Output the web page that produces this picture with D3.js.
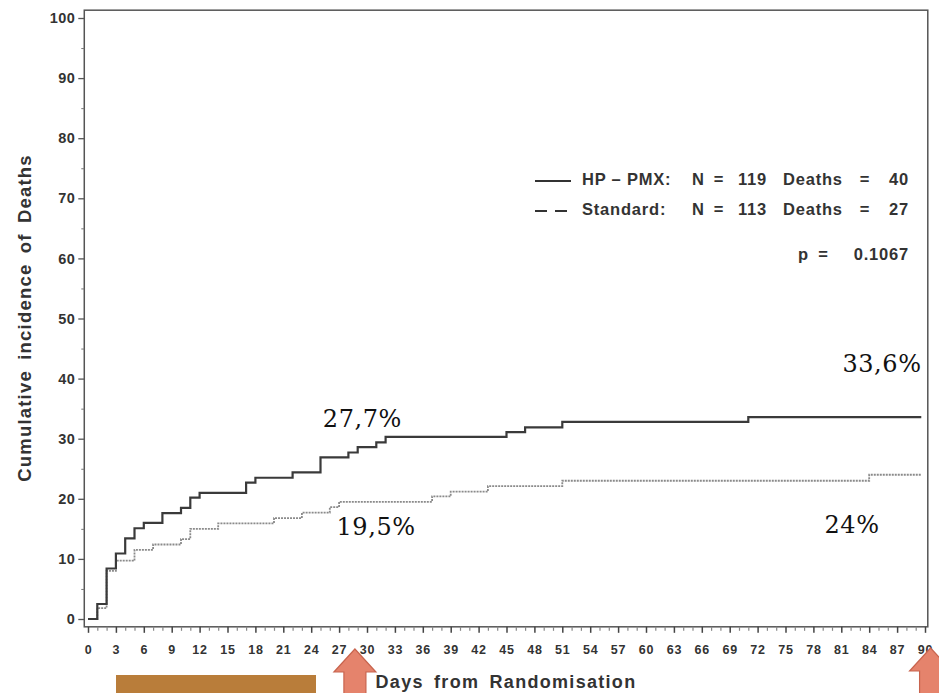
<!DOCTYPE html>
<html>
<head>
<meta charset="utf-8">
<script src="https://cdn.jsdelivr.net/npm/d3@7"></script>
<style>
  html, body { margin: 0; padding: 0; background: #fff; }
  svg { display: block; }
  .sans { font-family: "Liberation Sans", Arial, Helvetica, sans-serif; font-weight: bold; fill: #333; }
  .serif { font-family: "DejaVu Serif", Georgia, "Liberation Serif", serif; fill: #111; }
</style>
</head>
<body>
<svg id="chart" width="939" height="693"></svg>
<script>
// Cumulative incidence of deaths, step functions (day of event, cumulative %)
const hpDays   = [0, 1, 2, 3, 4, 5, 6, 8, 10, 11, 12, 17, 18, 22, 25, 28, 29, 31, 32, 45, 47, 51, 71];
const hpValues = [0, 2.5, 8.4, 10.9, 13.4, 15.1, 16.0, 17.6, 18.5, 20.2, 21.0, 22.7, 23.5, 24.4, 26.9, 27.7, 28.6, 29.4, 30.3, 31.1, 31.9, 32.8, 33.6];
const stdDays   = [0, 1, 2, 3, 5, 7, 10, 11, 14, 20, 23, 26, 27, 37, 39, 43, 51, 84];
const stdValues = [0, 1.8, 8.0, 9.7, 11.5, 12.4, 13.3, 15.0, 15.9, 16.8, 17.7, 18.6, 19.5, 20.4, 21.2, 22.1, 23.0, 24.0];
const lastDay = 89.6;

const xTicks = d3.range(0, 91, 3);
const yTicks = d3.range(0, 101, 10);

const legendRows = [
  { label: "HP \u2013 PMX:", n: "119", deaths: "40" },
  { label: "Standard:", n: "113", deaths: "27" }
];
const pValue = "0.1067";

// Percent call-outs: day and value they refer to
const callouts = [
  { day: 28, value: 27.7, text: "27,7%" },
  { day: 27, value: 19.5, text: "19,5%" },
  { day: 90, value: 33.6, text: "33,6%" },
  { day: 90, value: 24.0, text: "24%" }
];

const svg = d3.select("#chart");
const x = d3.scaleLinear().domain([0, 90]).range([88, 925]);
const y = d3.scaleLinear().domain([0, 100]).range([619, 18]);

const frameL = x(-0.4), frameR = x(90.3), frameT = y(101.3), frameB = y(-1.3);

// Frame
svg.append("rect")
  .attr("x", frameL).attr("y", frameT)
  .attr("width", frameR - frameL).attr("height", frameB - frameT)
  .attr("fill", "none").attr("stroke", "#555").attr("stroke-width", 1.5);

// Y axis
const yAxis = svg.append("g")
  .attr("transform", `translate(${frameL},0)`)
  .call(d3.axisLeft(y).tickValues(yTicks).tickSize(6).tickPadding(3));
yAxis.select(".domain").remove();
yAxis.selectAll(".tick line").attr("stroke", "#555").attr("stroke-width", 1.3);
yAxis.selectAll(".tick text").attr("class", "sans")
  .style("font-size", "14.5px").style("letter-spacing", "0.4px");
svg.append("g")
  .attr("transform", `translate(${frameL},0)`)
  .call(d3.axisLeft(y).tickValues(d3.range(5, 100, 10)).tickSize(3).tickFormat(""))
  .call(g => g.select(".domain").remove())
  .selectAll("line").attr("stroke", "#777");

// X axis: daily minor ticks and labelled ticks every 3 days
svg.append("g")
  .attr("transform", `translate(0,${frameB})`)
  .call(d3.axisBottom(x).tickValues(d3.range(0, 91, 1).filter(d => d % 3 !== 0)).tickSize(4).tickFormat(""))
  .call(g => g.select(".domain").remove())
  .selectAll("line").attr("stroke", "#888").attr("stroke-width", 1.2);
const xAxis = svg.append("g")
  .attr("transform", `translate(0,${frameB})`)
  .call(d3.axisBottom(x).tickValues(xTicks).tickSize(6).tickPadding(12));
xAxis.select(".domain").remove();
xAxis.selectAll(".tick line").attr("stroke", "#444").attr("stroke-width", 1.5);
xAxis.selectAll(".tick text").attr("class", "sans")
  .style("font-size", "12.5px").style("letter-spacing", "0.8px");

// Axis titles
svg.append("text").attr("class", "sans")
  .attr("transform", "translate(31,318) rotate(-90)")
  .attr("text-anchor", "middle")
  .style("font-size", "18.5px").style("letter-spacing", "1.2px").style("word-spacing", "4px")
  .text("Cumulative incidence of Deaths");
svg.append("text").attr("class", "sans")
  .attr("x", 506).attr("y", 688)
  .attr("text-anchor", "middle")
  .style("font-size", "18px").style("letter-spacing", "1.3px").style("word-spacing", "4px")
  .text("Days from Randomisation");

// Curves
const line = d3.line().x(d => x(d[0])).y(d => y(d[1])).curve(d3.curveStepAfter);
const steps = (days, vals) => {
  const pts = days.map((d, i) => [d, vals[i]]);
  pts.push([lastDay, vals[vals.length - 1]]);
  return pts;
};
svg.append("path")
  .datum(steps(stdDays, stdValues))
  .attr("d", line)
  .attr("fill", "none").attr("stroke", "#8a8a8a").attr("stroke-width", 1.8)
  .attr("stroke-dasharray", "2,1");
svg.append("path")
  .datum(steps(hpDays, hpValues))
  .attr("d", line)
  .attr("fill", "none").attr("stroke", "#3a3a3a").attr("stroke-width", 2.2);

// Legend
const rowY = [185, 215];
const legend = svg.append("g").attr("class", "legend");
const legendFont = "16.5px";
legendRows.forEach((r, i) => {
  const by = rowY[i];
  legend.append("line")
    .attr("x1", 535).attr("x2", 571).attr("y1", by - 4).attr("y2", by - 4)
    .attr("stroke", "#333").attr("stroke-width", 1.8)
    .attr("stroke-dasharray", i === 0 ? null : "12,8");
  const t = (xp, txt, anchor) => legend.append("text").attr("class", "sans")
    .attr("x", xp).attr("y", by).attr("text-anchor", anchor || "start")
    .style("font-size", legendFont).style("letter-spacing", "0.8px").text(txt);
  t(582, r.label);
  t(692, "N");
  t(719, "=", "middle");
  t(738, r.n);
  t(783, "Deaths");
  t(865, "=", "middle");
  t(909, r.deaths, "end");
});
legend.append("text").attr("class", "sans")
  .attr("x", 798).attr("y", 260)
  .style("font-size", legendFont).text("p");
legend.append("text").attr("class", "sans")
  .attr("x", 823).attr("y", 260).attr("text-anchor", "middle")
  .style("font-size", legendFont).text("=");
legend.append("text").attr("class", "sans")
  .attr("x", 909).attr("y", 260).attr("text-anchor", "end")
  .style("font-size", legendFont).style("letter-spacing", "0.8px").text(pValue);

// Percent call-outs, offset from the point they describe
const calloutPos = [
  { dx: 14, dy: -26 },
  { dx: 37, dy: 33 },
  { dx: -43, dy: -45 },
  { dx: -73, dy: 58 }
];
callouts.forEach((c, i) => {
  const p = calloutPos[i];
  svg.append("text").attr("class", "serif")
    .attr("x", x(c.day) + p.dx).attr("y", y(c.value) + p.dy)
    .attr("text-anchor", "middle")
    .style("font-size", "24px").style("letter-spacing", "0.6px")
    .text(c.text);
});

// Highlight bar under the early days
svg.append("rect")
  .attr("x", 116).attr("y", 675).attr("width", 200).attr("height", 18)
  .attr("fill", "#b97d3a");

// Up arrows pointing at day 28 and day 90
const arrow = (cx, tipY) => {
  const pts = [
    [cx, tipY], [cx + 21, tipY + 23], [cx + 11, tipY + 23], [cx + 11, 700],
    [cx - 11, 700], [cx - 11, tipY + 23], [cx - 21, tipY + 23]
  ];
  svg.append("path")
    .attr("d", "M" + pts.map(p => p.join(",")).join("L") + "Z")
    .attr("fill", "#e5836c").attr("stroke", "#c8644e").attr("stroke-width", 1.2);
};
arrow(x(28.7), 649);
arrow(x(90.6), 648);
</script>
</body>
</html>
